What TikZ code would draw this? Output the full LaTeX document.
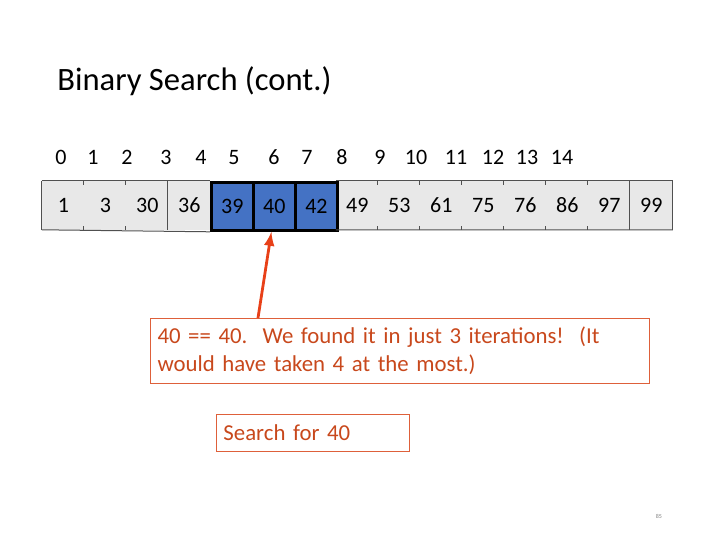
\documentclass[tikz,border=0pt]{standalone}
\usepackage{fontspec}
\setmainfont{Carlito}
\usetikzlibrary{arrows.meta,positioning,backgrounds}
\tikzset{>=latex}

\begin{document}
\begin{tikzpicture}[x=0.5pt,y=-0.5pt, font=\fontsize{11}{13}\selectfont]
		\definecolor{cellgray}{RGB}{232,232,232}
		\definecolor{foundblue}{RGB}{68,114,196}
		\definecolor{linegray}{RGB}{80,80,80}
		\definecolor{notecolor}{RGB}{200,72,28}
		\definecolor{noteborder}{RGB}{222,96,58}
		\definecolor{arrowcolor}{RGB}{232,64,24}
		\tikzset{cell/.style={anchor=north west,minimum width=21pt,minimum height=24pt,inner sep=0pt,text height=7.6pt,text depth=0pt}}
		\tikzset{found/.style={cell,fill=foundblue,draw=black,line width=1.4pt}}
		\tikzset{idx/.style={inner sep=0pt,text height=7.6pt,text depth=0pt}}
		\tikzset{rim/.style={linegray,line width=0.5pt}}
		\tikzset{notebox/.style={draw=noteborder,line width=0.5pt,anchor=north west,text=notecolor,inner sep=3.5pt,font=\fontsize{11.4}{14}\selectfont}}
		\tikzset{pointer/.style={->,draw=arrowcolor,line width=1.4pt}}

		\useasboundingbox (0,0) rectangle (720,540);

		% Title
		\node[anchor=west,inner sep=0pt,font=\fontsize{16.3}{19}\selectfont] (title) at (57,81) {Binary Search (cont.)};

		% Array cells
		\foreach \v/\s [count=\k from 0] in {1/cell,3/cell,30/cell,36/cell,39/found,40/found,42/found,49/cell,53/cell,61/cell,75/cell,76/cell,86/cell,97/cell,99/cell}
			\node[\s] (c\k) at ({42+42*\k},181) {\v};
		\begin{scope}[on background layer]
			\fill[cellgray] (c0.north west) rectangle (c14.south east);
		\end{scope}

		% Outline and ticks
		\draw[rim] (c0.north west) -- (c4.north west) (c7.north west) -- (c14.north east);
		\draw[rim] (c0.south west) -- (c4.south west) (c7.south west) -- (c14.south east);
		\draw[rim] (c0.north west) -- (c0.south west);
		\draw[rim] (c3.north west) -- (c3.south west);
		\draw[rim] (c14.north west) -- (c14.south west);
		\draw[rim] (c14.north east) -- (c14.south east);
		\foreach \k in {1,2,8,9,10,11,12,13} {
			\draw[rim] (c\k.north west) -- ([yshift=-2pt]c\k.north west);
			\draw[rim] (c\k.south west) -- ([yshift=2pt]c\k.south west);
		}

		% Index labels
		\foreach \x/\i in {61/0,93/1,127/2,166/3,201/4,234/5,274/6,307/7,342/8,380/9,416/10,456/11,493/12,527/13,562/14}
			\node[idx] (i\i) at (\x,157) {\i};

		% Notes
		\node[notebox,minimum width=249.5pt,minimum height=32.5pt,text width=242.5pt,align=left] (note) at (150,318) {40 == 40.\ \ We found it in just 3 iterations!\ \ (It\\would have taken 4 at the most.)};
		\node[notebox,minimum width=96.5pt,minimum height=18.5pt,text width=89.5pt,align=left] (search) at (216,414) {Search for 40};

		\draw[pointer] ([xshift=54pt]note.north west) -- ([xshift=-1.5pt]c5.south);

		% Page number
		\node[inner sep=0pt,text=gray,font=\fontsize{3}{3}\selectfont] (pagenum) at (659,516) {85};
	\end{tikzpicture}
\end{document}
